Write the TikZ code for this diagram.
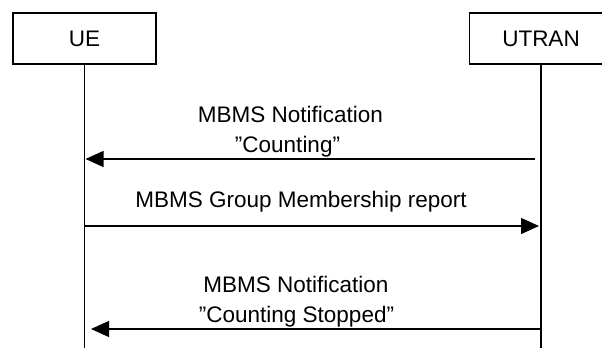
\documentclass[tikz,border=0pt]{standalone}
\usepackage{fontspec}
\setmainfont{Liberation Sans}
\usetikzlibrary{arrows.meta}
\begin{document}
\begin{tikzpicture}[x=1pt,y=-1pt,
  entity/.style={draw,line width=1.2pt,minimum width=143pt,minimum height=51pt,
    inner sep=0pt,font=\fontsize{22.5}{30}\selectfont},
  lifeline/.style={line width=1.2pt},
  msg/.style={line width=1.2pt,-{Triangle[length=18pt,width=16pt]}},
  lbl/.style={anchor=base,inner sep=0pt,font=\fontsize{22.5}{30}\selectfont}]
\useasboundingbox (0,0) rectangle (602,348);
\clip (0,0) rectangle (602,348);

% entities
\node[entity] (ue) at (84.5,38.5) {UE};
\node[entity] (utran) at (541,38.5) {UTRAN};

% lifelines
\coordinate (ueEnd) at (84.5,348);
\coordinate (utranEnd) at (541,348);
\draw[lifeline] (ue.south) -- (ueEnd);
\draw[lifeline] (utran.south) -- (utranEnd);

% message end points
\coordinate (m1s) at (535,159);
\coordinate (m1e) at (85.5,159);
\coordinate (m2s) at (84.5,226);
\coordinate (m2e) at (539,226);
\coordinate (m3s) at (541,329);
\coordinate (m3e) at (91,329);

% messages
\draw[msg] (m1s) -- (m1e);
\draw[msg] (m2s) -- (m2e);
\draw[msg] (m3s) -- (m3e);

% labels
\node[lbl] (l1a) at (290.5,122) {MBMS Notification};
\node[lbl] (l1b) at (287.5,152) {”Counting”};
\node[lbl] (l2) at (301,207) {MBMS Group Membership report};
\node[lbl] (l3a) at (296,292) {MBMS Notification};
\node[lbl] (l3b) at (296.5,322) {”Counting Stopped”};
\end{tikzpicture}
\end{document}
